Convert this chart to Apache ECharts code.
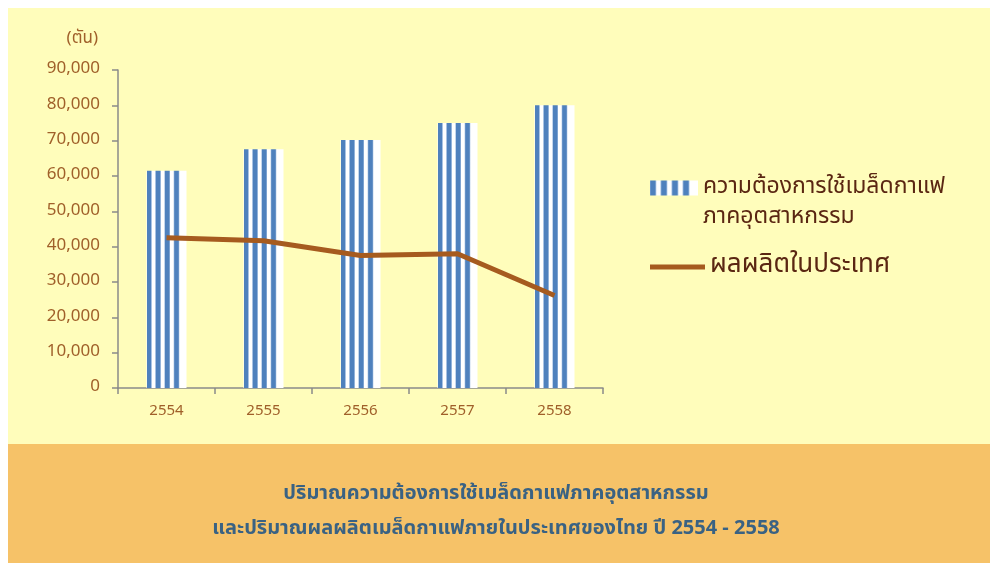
<!DOCTYPE html>
<html>
<head>
<meta charset="utf-8">
<script src="https://cdn.jsdelivr.net/npm/echarts@6/dist/echarts.min.js"></script>
<style>
    html, body { margin: 0; padding: 0; background: #ffffff; }
    #chart { width: 992px; height: 565px; }
</style>
</head>
<body>
<div id="chart"></div>
<script>
var years = ['2554', '2555', '2556', '2557', '2558'];
var demand = [61500, 67600, 70200, 75000, 80000];     // ความต้องการใช้เมล็ดกาแฟภาคอุตสาหกรรม
var produce = [42500, 41700, 37500, 38000, 26200];    // ผลผลิตในประเทศ
var demandName = 'ความต้องการใช้เมล็ดกาแฟ\nภาคอุตสาหกรรม';
var produceName = 'ผลผลิตในประเทศ';
var unitName = '(ตัน)';
var captionText = 'ปริมาณความต้องการใช้เมล็ดกาแฟภาคอุตสาหกรรม\nและปริมาณผลผลิตเมล็ดกาแฟภายในประเทศของไทย ปี 2554 - 2558';

var thaiFont = "'Noto Sans Thai', 'Noto Sans Thai UI', 'Noto Sans', sans-serif";

// แถบลายทางสีฟ้า-ขาวในแท่ง
function stripeColor(n) {
    var stops = [];
    var blue = '#4f81bd', light = '#a9c3e3', white = '#ffffff';
    var step = 1 / (n + 0.35);
    for (var k = 0; k < n; k++) {
        var c = 0.06 + step * k;
        var pts = [[c - 0.08, white], [c - 0.065, light], [c - 0.045, blue], [c + 0.045, blue], [c + 0.065, light], [c + 0.08, white]];
        for (var j = 0; j < pts.length; j++) {
            var o = Math.max(0, Math.min(1, pts[j][0]));
            if (stops.length && o <= stops[stops.length - 1].offset) o = stops[stops.length - 1].offset + 0.0001;
            if (o > 1) o = 1;
            stops.push({ offset: o, color: pts[j][1] });
        }
    }
    stops.push({ offset: 1, color: white });
    return new echarts.graphic.LinearGradient(0, 0, 1, 0, stops);
}

var chart = echarts.init(document.getElementById('chart'));
var option = {
    backgroundColor: '#ffffff',
    animation: false,
    textStyle: { fontFamily: thaiFont },
    graphic: [
        { type: 'rect', z: -10, shape: { x: 8, y: 8, width: 982, height: 436 }, style: { fill: '#fffdbb' } },
        { type: 'rect', z: -10, shape: { x: 8, y: 444, width: 982, height: 119 }, style: { fill: '#f6c268' } }
    ],
    title: {
        text: captionText,
        left: 'center',
        top: 472,
        textStyle: {
            color: '#3a6283',
            fontSize: 20,
            fontWeight: 'bold',
            lineHeight: 35,
            fontFamily: thaiFont
        }
    },
    grid: { left: 118, right: 389, top: 70, bottom: 177 },
    legend: [
        {
            data: [{ name: demandName, icon: 'rect' }],
            orient: 'vertical',
            left: 645,
            top: 138,
            itemWidth: 48,
            itemHeight: 15,
            // บรรทัดว่างด้านบน เพื่อให้ไอคอนอยู่ตรงกับบรรทัดแรก
            formatter: function (name) { return ' \n' + name; },
            textStyle: { color: '#5a2612', fontSize: 23, lineHeight: 30, fontFamily: thaiFont }
        },
        {
            data: [{ name: produceName, icon: 'rect' }],
            orient: 'vertical',
            left: 645,
            top: 245,
            itemWidth: 55,
            itemHeight: 5,
            textStyle: { color: '#5a2612', fontSize: 26, lineHeight: 34, fontFamily: thaiFont }
        }
    ],
    xAxis: {
        type: 'category',
        data: years,
        axisLine: { lineStyle: { color: '#8a8a8a', width: 1.5 } },
        axisTick: { show: true, length: 6, lineStyle: { color: '#8a8a8a', width: 1.5 } },
        axisLabel: { color: '#a0602a', fontSize: 15, margin: 16 }
    },
    yAxis: {
        type: 'value',
        min: 0,
        max: 90000,
        interval: 10000,
        name: unitName,
        nameGap: 22,
        nameTextStyle: { color: '#a0602a', fontSize: 17, align: 'right', padding: [0, 20, 0, 0] },
        axisLine: { show: true, lineStyle: { color: '#8a8a8a', width: 1.5 } },
        axisTick: { show: true, length: 6, lineStyle: { color: '#8a8a8a', width: 1.5 } },
        splitLine: { show: false },
        axisLabel: { color: '#a0602a', fontSize: 17, margin: 18 }
    },
    series: [
        {
            name: demandName,
            type: 'bar',
            data: demand,
            barWidth: 40,
            itemStyle: { color: stripeColor(4) }
        },
        {
            name: produceName,
            type: 'line',
            data: produce,
            symbol: 'none',
            lineStyle: { color: '#a65b1f', width: 5 },
            itemStyle: { color: '#a65b1f' }
        }
    ]
};
chart.setOption(option);
</script>
</body>
</html>
